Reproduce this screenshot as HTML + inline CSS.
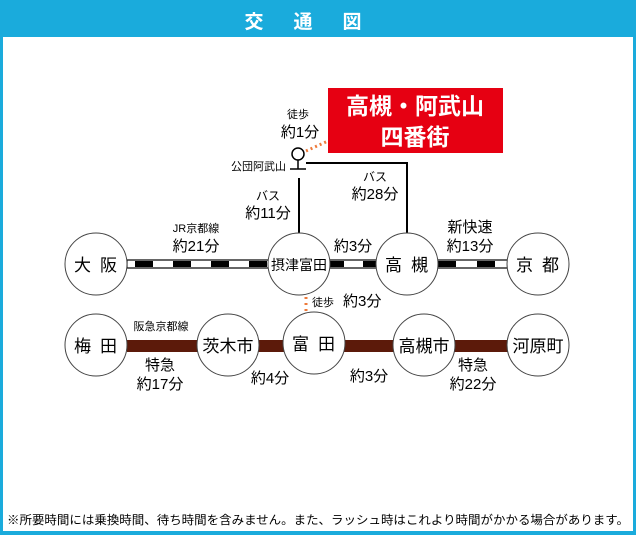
<!DOCTYPE html>
<html><head><meta charset="utf-8"><style>
html,body{margin:0;padding:0;background:#fff;}
svg{display:block;font-family:"Liberation Sans","Noto Sans CJK JP",sans-serif;}
</style></head><body>
<svg width="636" height="535" viewBox="0 0 636 535" xmlns="http://www.w3.org/2000/svg">
<rect x="0" y="0" width="636" height="535" fill="#1aabdc"/>
<rect x="3" y="37" width="630" height="494" fill="#fff"/>
<text x="318" y="28" fill="#fff" font-size="19" font-weight="bold" text-anchor="middle" letter-spacing="30">交通図</text>

<rect x="328" y="88" width="175" height="65" fill="#e60012"/>
<text x="415" y="114" fill="#fff" font-size="23" font-weight="bold" text-anchor="middle">高槻・阿武山</text>
<text x="415" y="145" fill="#fff" font-size="23" font-weight="bold" text-anchor="middle">四番街</text>

<line x1="306" y1="151" x2="328" y2="141" stroke="#ee7a3a" stroke-width="3" stroke-dasharray="2 3"/>
<circle cx="298" cy="154" r="6" fill="#fff" stroke="#000" stroke-width="1.5"/>
<line x1="298" y1="160" x2="298" y2="169" stroke="#000" stroke-width="1.5"/>
<line x1="290" y1="169" x2="306" y2="169" stroke="#000" stroke-width="1.5"/>
<text x="298" y="118" font-size="11" text-anchor="middle">徒歩</text>
<text x="300" y="137" font-size="15" text-anchor="middle">約1分</text>
<text x="286" y="170" font-size="11" text-anchor="end">公団阿武山</text>
<polyline points="306,163 407,163 407,233" fill="none" stroke="#000" stroke-width="2"/>
<line x1="299" y1="178" x2="299" y2="233" stroke="#000" stroke-width="2"/>
<text x="268" y="200" font-size="12" text-anchor="middle">バス</text>
<text x="268" y="218" font-size="15" text-anchor="middle">約11分</text>
<text x="375" y="181" font-size="12" text-anchor="middle">バス</text>
<text x="375" y="199" font-size="15" text-anchor="middle">約28分</text>

<rect x="127" y="260" width="412" height="8" fill="#fff" stroke="#000" stroke-width="1.2"/>
<g fill="#000">
<rect x="135" y="261" width="18" height="6"/><rect x="173" y="261" width="18" height="6"/>
<rect x="211" y="261" width="18" height="6"/><rect x="249" y="261" width="18" height="6"/>
<rect x="330" y="261" width="14" height="6"/><rect x="363" y="261" width="14" height="6"/>
<rect x="438" y="261" width="18" height="6"/><rect x="477" y="261" width="18" height="6"/>
</g>
<text x="196" y="232" font-size="11" text-anchor="middle">JR京都線</text>
<text x="196" y="251" font-size="15" text-anchor="middle">約21分</text>
<text x="353" y="251" font-size="15" text-anchor="middle">約3分</text>
<text x="470" y="232" font-size="15" text-anchor="middle">新快速</text>
<text x="470" y="251" font-size="15" text-anchor="middle">約13分</text>

<line x1="306" y1="297" x2="306" y2="311" stroke="#ee7a3a" stroke-width="3" stroke-dasharray="2 4"/>
<text x="312" y="306" font-size="11">徒歩</text>
<text x="343" y="306" font-size="15">約3分</text>

<rect x="127" y="340" width="412" height="12" fill="#5c1a0a"/>
<text x="161" y="330" font-size="11" text-anchor="middle">阪急京都線</text>
<text x="160" y="370" font-size="15" text-anchor="middle">特急</text>
<text x="160" y="389" font-size="15" text-anchor="middle">約17分</text>
<text x="270" y="383" font-size="15" text-anchor="middle">約4分</text>
<text x="369" y="381" font-size="15" text-anchor="middle">約3分</text>
<text x="473" y="370" font-size="15" text-anchor="middle">特急</text>
<text x="473" y="389" font-size="15" text-anchor="middle">約22分</text>

<g fill="#fff" stroke="#444" stroke-width="1">
<circle cx="96" cy="264" r="31"/><circle cx="299" cy="264" r="31"/>
<circle cx="407" cy="264" r="31"/><circle cx="538" cy="264" r="31"/>
<circle cx="96" cy="345" r="31"/><circle cx="228" cy="345" r="31"/>
<circle cx="314" cy="343" r="31"/><circle cx="424" cy="345" r="31"/>
<circle cx="538" cy="345" r="31"/>
</g>
<g font-size="17" text-anchor="middle">
<text x="100" y="271" letter-spacing="9">大阪</text>
<text x="299" y="270" font-size="14">摂津富田</text>
<text x="411" y="271" letter-spacing="9">高槻</text>
<text x="542" y="271" letter-spacing="9">京都</text>
<text x="100" y="352" letter-spacing="9">梅田</text>
<text x="228" y="352">茨木市</text>
<text x="318" y="350" letter-spacing="9">富田</text>
<text x="424" y="352">高槻市</text>
<text x="538" y="352">河原町</text>
</g>

<text x="318" y="524" font-size="12" text-anchor="middle" textLength="622" lengthAdjust="spacingAndGlyphs">※所要時間には乗換時間、待ち時間を含みません。また、ラッシュ時はこれより時間がかかる場合があります。</text>
</svg>
</body></html>
